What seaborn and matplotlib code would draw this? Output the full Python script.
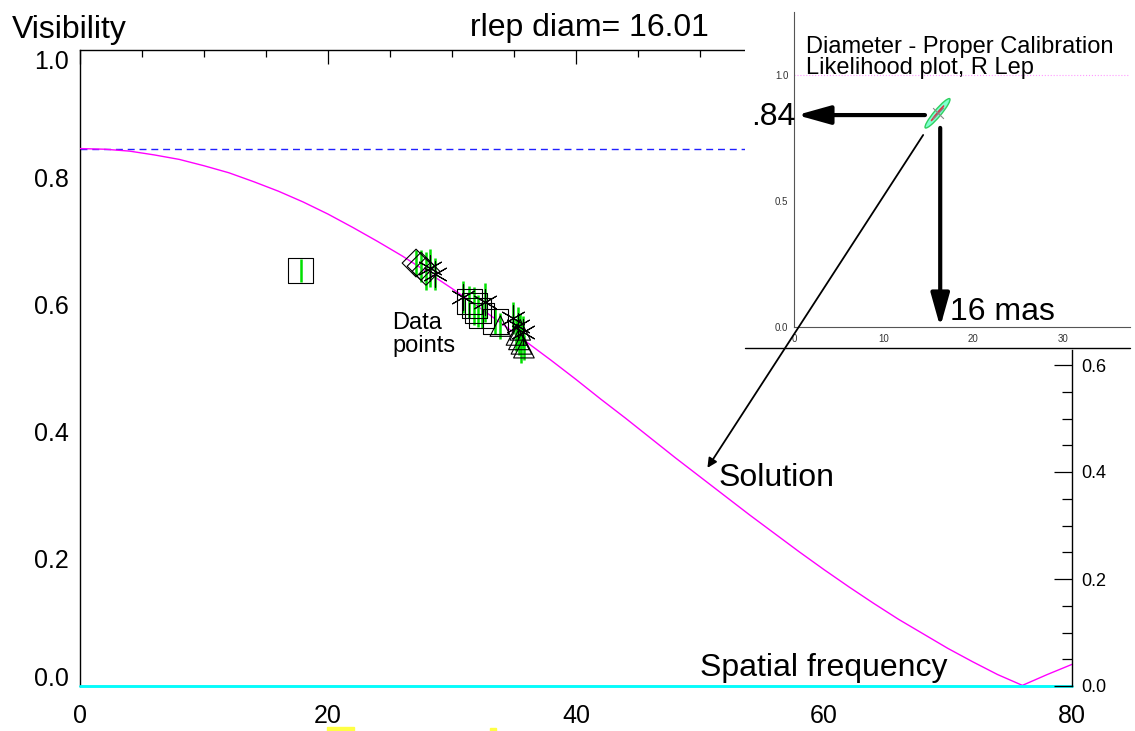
import seaborn as sns
import matplotlib
matplotlib.use('Agg')
from matplotlib import pyplot as plt
from matplotlib import font_manager
from matplotlib.patches import Ellipse, ConnectionPatch, Rectangle
from matplotlib.ticker import MultipleLocator
from matplotlib.transforms import ScaledTranslation


# Uniform disk model (every 2 units of spatial frequency).
model_freq = [0, 2, 4, 6, 8, 10, 12, 14, 16, 18, 20, 22, 24, 26, 28, 30, 32, 34, 36, 38, 40,
              42, 44, 46, 48, 50, 52, 54, 56, 58, 60, 62, 64, 66, 68, 70, 72, 74, 76, 78, 80]
model_vis = [0.845, 0.844, 0.841, 0.835, 0.828, 0.818, 0.807, 0.793, 0.778, 0.761, 0.742,
             0.721, 0.699, 0.676, 0.651, 0.625, 0.598, 0.570, 0.541, 0.512, 0.482,
             0.451, 0.421, 0.390, 0.359, 0.329, 0.299, 0.269, 0.240, 0.211, 0.183,
             0.156, 0.130, 0.105, 0.082, 0.059, 0.038, 0.018, 0.001, 0.018, 0.034]
zero_baseline_vis = 0.845

# Data points, one group per plot symbol.
square_freq = [17.8, 31.4, 31.8, 32.1, 32.4, 33.5]
square_vis = [0.653, 0.604, 0.598, 0.590, 0.583, 0.573]
square_err = [0.018, 0.025, 0.030, 0.025, 0.020, 0.020]
diamond_freq = [27.1, 27.5, 27.9]
diamond_vis = [0.665, 0.660, 0.652]
diamond_err = [0.020, 0.025, 0.030]
star_freq = [28.2, 28.6, 30.9, 32.7, 34.9, 35.3, 35.7]
star_vis = [0.657, 0.648, 0.612, 0.603, 0.578, 0.566, 0.556]
star_err = [0.030, 0.025, 0.025, 0.030, 0.025, 0.030, 0.025]
tri_freq = [33.9, 35.2, 35.4, 35.6, 35.8, 35.5]
tri_vis = [0.566, 0.552, 0.545, 0.538, 0.532, 0.560]
tri_err = [0.020, 0.025, 0.025, 0.030, 0.020, 0.025]

# Likelihood inset: best diameter (mas) and zero-baseline visibility.
best_diam = 16.0
best_v0 = 0.848

main_xticks = [0, 20, 40, 60, 80]
main_yticks = [0.0, 0.2, 0.4, 0.6, 0.8, 1.0]
right_yticks = [0.0, 0.2, 0.4, 0.6]
inset_xticks = [0, 10, 20, 30]
inset_yticks = [0.0, 0.5, 1.0]

W, H, DPI = 1135, 731, 100


def px_rect(left, top, right, bottom):
    return [left / W, 1 - bottom / H, (right - left) / W, (bottom - top) / H]


sns.set_style('white')
installed = {f.name for f in font_manager.fontManager.ttflist}
narrow = 'Liberation Sans Narrow' if 'Liberation Sans Narrow' in installed else 'Liberation Sans'
plt.rcParams['font.family'] = ['Liberation Sans', 'DejaVu Sans']
plt.rcParams['text.color'] = 'black'
plt.rcParams['xtick.labelcolor'] = 'black'
plt.rcParams['ytick.labelcolor'] = 'black'

fig = plt.figure(figsize=(W / DPI, H / DPI), dpi=DPI, facecolor='white')

# ---- main visibility plot
ax = fig.add_axes(px_rect(80, 50, 1072, 686))
ax.set_xlim(0, 80)
ax.set_ylim(0, 1.0)
for side in ['left', 'top', 'bottom']:
    ax.spines[side].set_color('black')
    ax.spines[side].set_linewidth(1)
ax.spines['right'].set_visible(False)

sns.lineplot(x=model_freq, y=model_vis, ax=ax, color='#ff00ff', lw=1, zorder=3)
ax.axhline(zero_baseline_vis, color='#2020ff', lw=1, dashes=(5, 3.5), zorder=2)
ax.axhline(0, color='#00ffff', lw=2, clip_on=False, zorder=6)

for fx_, fy_, fe in [(square_freq, square_vis, square_err), (diamond_freq, diamond_vis, diamond_err),
                     (star_freq, star_vis, star_err), (tri_freq, tri_vis, tri_err)]:
    ax.vlines(fx_, [v - e for v, e in zip(fy_, fe)], [v + e for v, e in zip(fy_, fe)],
              color='#00e000', lw=1.8, zorder=4)

sns.scatterplot(x=square_freq, y=square_vis, ax=ax, marker='s', s=330, color='black',
                facecolor='none', edgecolor='black', linewidth=0.8, zorder=5)
sns.scatterplot(x=diamond_freq, y=diamond_vis, ax=ax, marker='D', s=200, color='black',
                facecolor='none', edgecolor='black', linewidth=0.8, zorder=5)
sns.scatterplot(x=tri_freq, y=tri_vis, ax=ax, marker='^', s=220, color='black',
                facecolor='none', edgecolor='black', linewidth=0.8, zorder=5)
sns.scatterplot(x=star_freq, y=star_vis, ax=ax, marker=(6, 2, 0), s=330, color='black',
                linewidth=0.8, zorder=5)

ax.set_xticks(main_xticks)
ax.set_xticklabels([str(t) for t in main_xticks], fontfamily=narrow)
ax.set_yticks(main_yticks)
ax.set_yticklabels([f'{t:.1f}' for t in main_yticks], fontfamily=narrow)
ax.get_yticklabels()[0].set_va('baseline')
ax.get_yticklabels()[-1].set_va('top')
ax.xaxis.set_minor_locator(MultipleLocator(5))
ax.yaxis.set_minor_locator(MultipleLocator(0.05))
ax.tick_params(which='both', direction='in', top=True, right=False, color='black', width=0.9,
               labelcolor='black')
ax.tick_params(axis='x', which='major', length=10, pad=13, labelsize=18)
ax.tick_params(axis='x', which='minor', length=5)
ax.tick_params(axis='y', which='major', length=12, pad=8, labelsize=18)
ax.tick_params(axis='y', which='minor', length=6)
ax.set_xlabel('')
ax.set_ylabel('')

ax.text(25.2, 0.561, 'Data', fontsize=17, va='baseline', color='black')
ax.text(25.2, 0.525, 'points', fontsize=17, va='baseline', color='black')
ax.text(51.5, 0.314, 'Solution', fontsize=23, va='baseline', color='black')
ax.text(50.0, 0.016, 'Spatial frequency', fontsize=23, va='baseline', color='black')
fig.text(12 / W, 1 - 38 / H, 'Visibility', fontsize=23, va='baseline', color='black')
fig.text(470 / W, 1 - 36 / H, 'rlep diam= 16.01', fontsize=23, va='baseline', color='black')

# ---- right-hand axis (pasted from another plot scale)
axr = fig.add_axes(px_rect(80, 350, 1072, 686), facecolor='none')
axr.set_xlim(0, 80)
axr.set_ylim(0, (686 - 350) / 535)
for side in ['left', 'top', 'bottom']:
    axr.spines[side].set_visible(False)
axr.spines['right'].set_color('black')
axr.spines['right'].set_linewidth(1)
axr.set_xticks([])
axr.yaxis.tick_right()
axr.set_yticks(right_yticks)
axr.set_yticklabels([f'{t:.1f}' for t in right_yticks])
axr.yaxis.set_minor_locator(MultipleLocator(0.05))
axr.tick_params(axis='y', which='both', direction='in', color='black', width=0.9,
                labelcolor='black')
axr.tick_params(axis='y', which='major', length=13, pad=7, labelsize=13)
axr.tick_params(axis='y', which='minor', length=7)

# ---- white patch behind the likelihood inset
axb = fig.add_axes(px_rect(745, 0, 1135, 348), facecolor='white')
for side in axb.spines:
    axb.spines[side].set_visible(False)
axb.set_xticks([])
axb.set_yticks([])
axb.set_xlim(0, 1)
axb.set_ylim(0, 1)
axb.axhline(0, xmin=0, xmax=385 / 390, color='black', lw=1, clip_on=False)

# ---- likelihood inset
axi = fig.add_axes(px_rect(794, 12, 1130, 327), facecolor='none')
axi.set_xlim(0, (1130 - 794) / 8.97)
axi.set_ylim(0, (327 - 12) / 252)
for side in ['top', 'right']:
    axi.spines[side].set_visible(False)
for side in ['left', 'bottom']:
    axi.spines[side].set_color('#555555')
    axi.spines[side].set_linewidth(0.8)
axi.set_xticks(inset_xticks)
axi.set_xticklabels([str(t) for t in inset_xticks])
axi.set_yticks(inset_yticks)
axi.set_yticklabels([f'{t:.1f}' for t in inset_yticks])
axi.xaxis.set_minor_locator(MultipleLocator(2))
axi.yaxis.set_minor_locator(MultipleLocator(0.1))
axi.tick_params(which='both', direction='in', color='#555555', width=0.7, labelsize=7,
                labelcolor='#333333')
axi.tick_params(axis='x', which='major', length=7, pad=5)
axi.tick_params(axis='x', which='minor', length=3.5)
axi.tick_params(axis='y', which='major', length=5, pad=4)
axi.tick_params(axis='y', which='minor', length=5)
axi.axhline(1.0, color='#ff99ff', ls=':', lw=0.8)

ell_tr = fig.dpi_scale_trans + ScaledTranslation(best_diam, best_v0, axi.transData)
axi.add_patch(Ellipse((0, 0), 0.38, 0.07, angle=50, transform=ell_tr,
                      facecolor='#80ffd0', edgecolor='#30d060', lw=1, zorder=4))
axi.add_patch(Ellipse((0, 0), 0.2, 0.015, angle=50, transform=ell_tr,
                      facecolor='#cc3355', edgecolor='#dd3344', lw=0.6, zorder=5))
sns.scatterplot(x=[best_diam], y=[best_v0], ax=axi, marker='x', s=60, color='#888888',
                linewidth=0.8, zorder=6)
axi.set_xlabel('')
axi.set_ylabel('')

fig.text(806 / W, 1 - 53 / H, 'Diameter - Proper Calibration', fontsize=17, va='baseline',
         color='black')
fig.text(806 / W, 1 - 74 / H, 'Likelihood plot, R Lep', fontsize=17, va='baseline',
         color='black')
fig.text(795 / W, 1 - 125 / H, '.84', fontsize=23, va='baseline', ha='right', color='black')
fig.text(950 / W, 1 - 320 / H, '16 mas', fontsize=23, va='baseline', color='black')

axi.annotate('', xy=(0.33, 0.841), xytext=(14.6, 0.841), xycoords='data',
             arrowprops=dict(arrowstyle='-|>,head_length=1.0,head_width=0.28', lw=3,
                             color='black', shrinkA=0, shrinkB=0, mutation_scale=20),
             annotation_clip=False, zorder=7)
axi.annotate('', xy=(16.3, 0.0), xytext=(16.3, 0.79), xycoords='data',
             arrowprops=dict(arrowstyle='-|>,head_length=1.0,head_width=0.28', lw=3,
                             color='black', shrinkA=0, shrinkB=0, mutation_scale=20),
             annotation_clip=False, zorder=7)
con = ConnectionPatch(xyA=(14.4, 0.762), coordsA=axi.transData,
                      xyB=(50.6, 0.343), coordsB=ax.transData,
                      arrowstyle='-|>', mutation_scale=14, lw=1.3, color='black',
                      shrinkA=0, shrinkB=0)
fig.add_artist(con)

# stray yellow marks along the bottom edge
fig.patches.append(Rectangle((327 / W, 0), 27 / W, 4 / H, transform=fig.transFigure,
                             color='#ffff44', figure=fig))
fig.patches.append(Rectangle((490 / W, 0), 6 / W, 3 / H, transform=fig.transFigure,
                             color='#ffff44', figure=fig))

fig.savefig('out.png', dpi=DPI, facecolor='white')
